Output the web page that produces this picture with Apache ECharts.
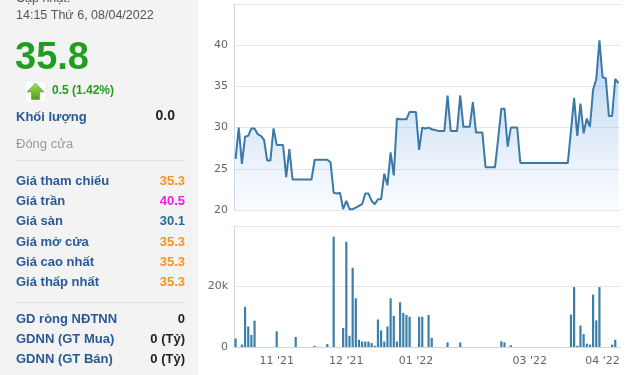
<!DOCTYPE html>
<html>
<head>
<meta charset="utf-8">
<script src="https://cdn.jsdelivr.net/npm/echarts@6/dist/echarts.min.js"></script>
<style>
html,body{margin:0;padding:0;background:#fff;}
#chart{width:640px;height:375px;}
</style>
</head>
<body>
<div id="chart"></div>
<script>
// Trading dates (category axis)
const dates = [
  '2021-10-13','2021-10-14','2021-10-15','2021-10-18','2021-10-19','2021-10-20','2021-10-21','2021-10-22','2021-10-25','2021-10-26','2021-10-27','2021-10-28','2021-10-29',
  '2021-11-01','2021-11-02','2021-11-03','2021-11-04','2021-11-05','2021-11-08','2021-11-09','2021-11-10','2021-11-11','2021-11-12','2021-11-15','2021-11-16','2021-11-17','2021-11-18','2021-11-19','2021-11-22','2021-11-23','2021-11-24','2021-11-25','2021-11-26','2021-11-29','2021-11-30',
  '2021-12-01','2021-12-02','2021-12-03','2021-12-06','2021-12-07','2021-12-08','2021-12-09','2021-12-10','2021-12-13','2021-12-14','2021-12-15','2021-12-16','2021-12-17','2021-12-20','2021-12-21','2021-12-22','2021-12-23','2021-12-24','2021-12-27','2021-12-28','2021-12-29','2021-12-30','2021-12-31',
  '2022-01-04','2022-01-05','2022-01-06','2022-01-07','2022-01-10','2022-01-11','2022-01-12','2022-01-13','2022-01-14','2022-01-17','2022-01-18','2022-01-19','2022-01-20','2022-01-21','2022-01-24','2022-01-25','2022-01-26','2022-01-27','2022-01-28',
  '2022-02-07','2022-02-08','2022-02-09','2022-02-10','2022-02-11','2022-02-14','2022-02-15','2022-02-16','2022-02-17','2022-02-18','2022-02-21','2022-02-22','2022-02-23','2022-02-24','2022-02-25','2022-02-28',
  '2022-03-01','2022-03-02','2022-03-03','2022-03-04','2022-03-07','2022-03-08','2022-03-09','2022-03-10','2022-03-11','2022-03-14','2022-03-15','2022-03-16','2022-03-17','2022-03-18','2022-03-21','2022-03-22','2022-03-23','2022-03-24','2022-03-25','2022-03-28','2022-03-29','2022-03-30','2022-03-31',
  '2022-04-01','2022-04-04','2022-04-05','2022-04-06','2022-04-07','2022-04-08'
];

// Closing price (thousand VND)
const prices = [
  26.2, 30.0, 25.6, 28.9, 29.0, 29.9, 29.9, 29.2, 29.0, 28.5,
  26.0, 26.0, 29.9, 27.9, 27.9, 27.9, 24.0, 27.4, 23.7, 23.7,
  23.7, 23.7, 23.7, 23.7, 23.7, 26.1, 26.1, 26.1, 26.1, 26.1,
  25.8, 22.1, 22.0, 22.1, 20.1, 21.1, 20.1, 20.1, 20.3, 20.5,
  20.7, 22.0, 22.0, 21.1, 20.7, 21.3, 21.3, 24.4, 23.0, 27.0,
  24.2, 31.1, 31.0, 31.0, 31.0, 31.9, 31.9, 31.9, 27.3, 30.0,
  29.9, 30.0, 29.8, 29.7, 29.6, 29.6, 29.6, 33.9, 29.6, 29.6,
  29.6, 33.9, 30.1, 30.1, 30.1, 33.1, 29.4, 29.4, 29.4, 25.2,
  25.2, 25.2, 25.2, 28.7, 32.3, 32.3, 27.7, 30.0, 30.0, 30.0,
  25.7, 25.7, 25.7, 25.7, 25.7, 25.7, 25.7, 25.7, 25.7, 25.7,
  25.7, 25.7, 25.7, 25.7, 25.7, 25.7, 29.6, 33.6, 29.0, 32.9,
  29.3, 31.1, 30.1, 34.6, 35.9, 40.6, 36.1, 36.0, 31.4, 31.4,
  35.9, 35.4
];

// Volume (shares)
const volumes = [
  2800, 0, 800, 13300, 6800, 4000, 8700, 0, 0, 0,
  0, 0, 0, 5200, 0, 0, 0, 0, 0, 3300,
  0, 0, 0, 0, 0, 400, 0, 0, 0, 1000,
  0, 36500, 0, 0, 6300, 34800, 3700, 26200, 16100, 2400,
  1800, 1800, 1800, 1300, 400, 9100, 5500, 1800, 6800, 16100,
  10300, 1800, 14800, 11300, 10600, 10000, 0, 0, 10000, 10000,
  0, 10600, 3000, 0, 0, 0, 0, 1500, 0, 0,
  0, 1500, 0, 0, 0, 0, 0, 0, 0, 0,
  0, 0, 0, 0, 1900, 1500, 0, 600, 0, 0,
  0, 0, 0, 0, 0, 0, 0, 0, 0, 0,
  0, 0, 0, 0, 0, 0, 10700, 19800, 400, 7100,
  4300, 1100, 800, 17300, 8800, 19800, 0, 0, 0, 800,
  2400, 0
];

// Month tick labels on the x axis
const tickDates = ['2021-11-01', '2021-12-01', '2021-12-31', '2022-03-01', '2022-04-01'];
const tickLabels = ["11 '21", "12 '21", "01 '22", "03 '22", "04 '22"];

// Left info panel
const infoRows = [
  ['Giá tham chiếu', '35.3', '#f7931e'],
  ['Giá trần', '40.5', '#ee1ee8'],
  ['Giá sàn', '30.1', '#1b6d9c'],
  ['Giá mở cửa', '35.3', '#f7931e'],
  ['Giá cao nhất', '35.3', '#f7931e'],
  ['Giá thấp nhất', '35.3', '#f7931e']
];
const foreignRows = [
  ['GD ròng NĐTNN', '0'],
  ['GDNN (GT Mua)', '0 (Tỷ)'],
  ['GDNN (GT Bán)', '0 (Tỷ)']
];

const FONT = '"Liberation Sans", Arial, sans-serif';
const BLUE = '#285a97';
const GREEN = '#1f9e1f';

function txt(x, y, text, size, color, bold, align) {
  return {
    type: 'text', x: x, y: y, silent: true,
    style: {
      text: text, fill: color,
      font: (bold ? 'bold ' : '') + size + 'px ' + FONT,
      align: align || 'left', verticalAlign: 'middle'
    }
  };
}

const graphics = [
  { type: 'rect', shape: { x: 0, y: 0, width: 198, height: 375 }, style: { fill: '#f3f3f3' }, z: -10, silent: true },
  txt(16, -1, 'Cập nhật:', 12.5, '#555'),
  txt(16, 16, '14:15 Thứ 6, 08/04/2022', 12.5, '#555'),
  txt(15, 59, '35.8', 38, GREEN, true),
  { type: 'rect', shape: { x: 26, y: 82, width: 19, height: 19 }, style: { fill: '#fff' }, silent: true },
  { type: 'polygon', silent: true,
    shape: { points: [[35.5, 83], [44, 92], [39.5, 92], [39.5, 99.5], [31.5, 99.5], [31.5, 92], [27, 92]] },
    style: { fill: new echarts.graphic.LinearGradient(0, 0, 0, 1, [{ offset: 0, color: '#a6dc5c' }, { offset: 1, color: '#4e9e1c' }]), stroke: '#5a9e2a', lineWidth: 0.6 } },
  txt(52, 91, '0.5 (1.42%)', 12, GREEN, true),
  txt(16, 117, 'Khối lượng', 13, BLUE, true),
  txt(175, 116, '0.0', 14, '#222', true, 'right'),
  txt(16, 144, 'Đóng cửa', 13, '#999'),
  { type: 'line', shape: { x1: 16, y1: 160.5, x2: 185, y2: 160.5 }, style: { stroke: '#e2e2e2', lineWidth: 1 }, silent: true },
  { type: 'line', shape: { x1: 16, y1: 302.5, x2: 185, y2: 302.5 }, style: { stroke: '#e2e2e2', lineWidth: 1 }, silent: true }
];
infoRows.forEach(function (r, i) {
  const y = 181.5 + i * 20.2;
  graphics.push(txt(16, y, r[0], 13, BLUE, true));
  graphics.push(txt(185, y, r[1], 13, r[2], true, 'right'));
});
foreignRows.forEach(function (r, i) {
  const y = 319 + i * 20;
  graphics.push(txt(16, y, r[0], 13, BLUE, true));
  graphics.push(txt(185, y, r[1], 13, '#222', true, 'right'));
});

const AXIS_FONT = 'DejaVu Sans';
const chart = echarts.init(document.getElementById('chart'), null, { renderer: 'canvas' });
const option = {
  animation: false,
  backgroundColor: '#fff',
  graphic: graphics,
  grid: [
    { left: 234, top: 4, width: 386, height: 206 },
    { left: 234, top: 226, width: 386, height: 121 }
  ],
  xAxis: [
    { type: 'category', gridIndex: 0, data: dates, boundaryGap: true,
      axisLine: { show: false }, axisTick: { show: false }, axisLabel: { show: false }, splitLine: { show: false } },
    { type: 'category', gridIndex: 1, data: dates, boundaryGap: true,
      axisLine: { lineStyle: { color: '#ccd6eb', width: 1 } },
      axisTick: { alignWithLabel: true, length: 7, lineStyle: { color: '#ccd6eb' },
        interval: function (idx, val) { return tickDates.indexOf(val) >= 0; } },
      axisLabel: { color: '#666', fontSize: 11, fontFamily: AXIS_FONT, margin: 9,
        interval: function (idx, val) { return tickDates.indexOf(val) >= 0; },
        formatter: function (val) { const k = tickDates.indexOf(val); return k >= 0 ? tickLabels[k] : ''; } },
      splitLine: { show: false } }
  ],
  yAxis: [
    { type: 'value', gridIndex: 0, min: 20, max: 45, interval: 5,
      axisLine: { show: true, lineStyle: { color: '#ccd6eb' } },
      axisTick: { show: false },
      axisLabel: { color: '#666', fontSize: 11, fontFamily: AXIS_FONT, margin: 6, showMaxLabel: false },
      splitLine: { lineStyle: { color: '#e6e6e6', width: 1 } } },
    { type: 'value', gridIndex: 1, min: 0, max: 40000, interval: 20000,
      axisLine: { show: true, lineStyle: { color: '#ccd6eb' } },
      axisTick: { show: false },
      axisLabel: { color: '#666', fontSize: 11, fontFamily: AXIS_FONT, margin: 6, showMaxLabel: false,
        formatter: function (v) { return v === 0 ? '0' : (v / 1000) + 'k'; } },
      splitLine: { lineStyle: { color: '#e6e6e6', width: 1 } } }
  ],
  series: [
    { type: 'line', xAxisIndex: 0, yAxisIndex: 0, data: prices, showSymbol: false, smooth: false,
      lineStyle: { color: '#3a79a8', width: 2 },
      areaStyle: { origin: 'start',
        color: new echarts.graphic.LinearGradient(0, 0, 0, 1, [
          { offset: 0, color: 'rgba(105,160,225,0.7)' },
          { offset: 1, color: 'rgba(140,185,235,0.06)' }
        ]) } },
    { type: 'bar', xAxisIndex: 1, yAxisIndex: 1, data: volumes, barWidth: 2.2,
      itemStyle: { color: '#3d7fa9' } }
  ]
};
chart.setOption(option);
</script>
</body>
</html>
